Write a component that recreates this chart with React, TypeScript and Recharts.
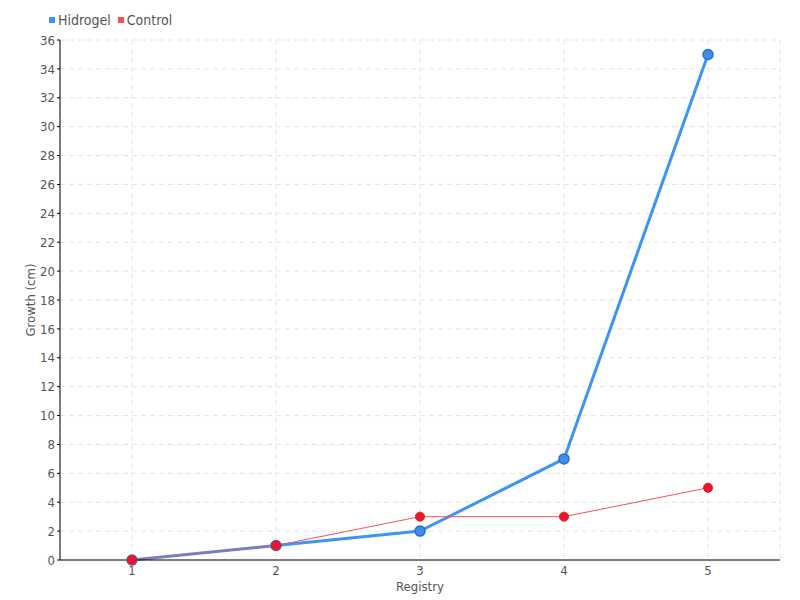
import React from 'react';
import { LineChart, Line, XAxis, YAxis, CartesianGrid, Legend } from 'recharts';

const registries = ['1', '2', '3', '4', '5'];
const hidrogel = [0, 1, 2, 7, 35];
const control = [0, 1, 3, 3, 5];
const yTicks = [0, 2, 4, 6, 8, 10, 12, 14, 16, 18, 20, 22, 24, 26, 28, 30, 32, 34, 36];
const seriesOrder = ['Hidrogel', 'Control'];

const data = registries.map((r, i) => ({ registry: r, hidrogel: hidrogel[i], control: control[i] }));

const FONT = '"Liberation Sans Narrow", "DejaVu Sans Condensed", "Roboto", sans-serif';

const renderLegend = (props: any) => {
    const payload = [...props.payload].sort(
        (a: any, b: any) => seriesOrder.indexOf(a.value) - seriesOrder.indexOf(b.value)
    );
    return (
        <div style={{ display: 'flex', alignItems: 'center', fontFamily: FONT, fontSize: 14, color: '#555', fontStretch: 'condensed' }}>
            {payload.map((entry: any) => (
                <div key={entry.value} style={{ display: 'flex', alignItems: 'center', marginRight: 7 }}>
                    <span style={{ width: 6, height: 6, background: entry.color, display: 'inline-block', marginRight: 3 }} />
                    <span>{entry.value}</span>
                </div>
            ))}
        </div>
    );
};

const tickStyle = { fill: '#555', fontSize: 13, fontFamily: FONT, fontStretch: 'condensed' };

export default function App() {
    return (
        <div style={{ position: 'absolute', left: 0, top: 0, width: 800, height: 600, background: '#fff' }}>
            <LineChart width={800} height={600} data={data} margin={{ top: 40, right: 20, left: 0, bottom: 10 }}>
                <CartesianGrid stroke="#e4e4e4" strokeDasharray="5 4" />
                <XAxis
                    dataKey="registry"
                    height={30}
                    padding={{ left: 72, right: 72 }}
                    tickLine={false}
                    tickMargin={0}
                    axisLine={{ stroke: '#000' }}
                    tick={tickStyle}
                    label={{ value: 'Registry', position: 'insideBottom', offset: -1, ...tickStyle }}
                />
                <YAxis
                    width={60}
                    domain={[0, 36]}
                    ticks={yTicks}
                    interval={0}
                    tickSize={3}
                    tickMargin={2}
                    axisLine={{ stroke: '#000' }}
                    tickLine={{ stroke: '#000' }}
                    tick={tickStyle}
                    label={{ value: 'Growth (cm)', angle: -90, position: 'insideLeft', offset: 30, ...tickStyle, style: { textAnchor: 'middle' } }}
                />
                <Legend
                    layout="horizontal"
                    verticalAlign="middle"
                    align="center"
                    content={renderLegend}
                    wrapperStyle={{ top: 12, left: 49, width: 'auto' }}
                />
                <Line
                    name="Hidrogel"
                    dataKey="hidrogel"
                    type="linear"
                    stroke="#3d94f6"
                    strokeWidth={3}
                    dot={{ r: 5, fill: '#3d8ee8', stroke: '#2a6fc9', strokeWidth: 1.5 }}
                    isAnimationActive={false}
                />
                <Line
                    name="Control"
                    dataKey="control"
                    type="linear"
                    stroke="#f2505f"
                    strokeWidth={1}
                    dot={{ r: 4.5, fill: '#e8172a', stroke: '#e8172a', strokeWidth: 1 }}
                    isAnimationActive={false}
                />
            </LineChart>
        </div>
    );
}
